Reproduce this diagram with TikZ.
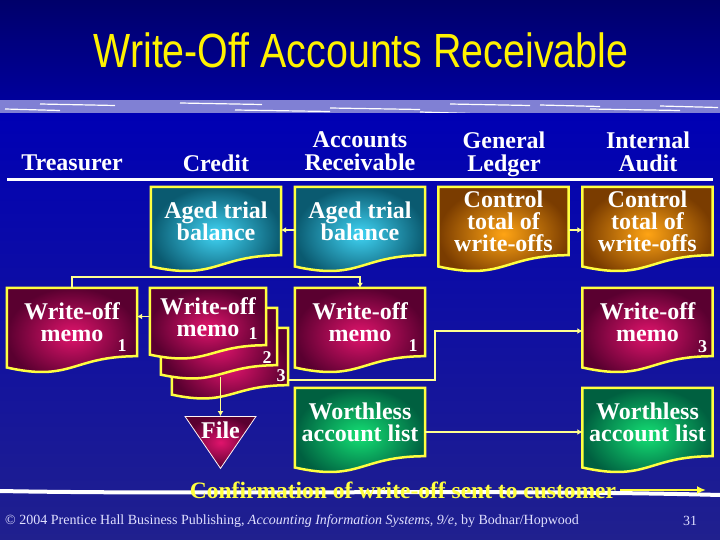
\documentclass[tikz,border=0pt]{standalone}
\usepackage{fontspec}
\setmainfont{Liberation Serif}
\newfontfamily\titlefont[FakeStretch=0.82]{Liberation Sans}
\usetikzlibrary{arrows.meta,calc,backgrounds,shapes.geometric}
\definecolor{bgTop}{HTML}{00006A}
\definecolor{bgTopLow}{HTML}{00009C}
\definecolor{bandCol}{HTML}{8080D4}
\definecolor{bgHigh}{HTML}{0000B4}
\definecolor{bgMid}{HTML}{0A0AF0}
\definecolor{bgLow}{HTML}{20208E}
\definecolor{docYellow}{HTML}{FFFF40}
\definecolor{connYellow}{HTML}{FFFF90}
\definecolor{tealIn}{HTML}{40D4F4}
\definecolor{tealOut}{HTML}{0A5A70}
\definecolor{orangeIn}{HTML}{FFA414}
\definecolor{orangeOut}{HTML}{7A3C00}
\definecolor{maroonIn}{HTML}{E0146C}
\definecolor{maroonOut}{HTML}{5A0030}
\definecolor{greenIn}{HTML}{14E074}
\definecolor{greenOut}{HTML}{006040}
\tikzset{
	header/.style={text=white, font=\bfseries\fontsize{24}{23}\selectfont, align=center, inner sep=0pt, text depth=6pt},
	doc/.style={text=white, font=\bfseries\fontsize{24}{22}\selectfont, align=center,
		minimum width=130, minimum height=68, inner sep=0pt},
	memo copy/.style={doc, minimum width=116, minimum height=57},
	num/.style={text=white, font=\bfseries\fontsize{18}{18}\selectfont, inner sep=0pt},
	teal doc/.style={draw=docYellow, line width=2.5pt, inner color=tealIn, outer color=tealOut},
	orange doc/.style={draw=docYellow, line width=2.5pt, inner color=orangeIn, outer color=orangeOut},
	maroon doc/.style={draw=docYellow, line width=2.5pt, inner color=maroonIn, outer color=maroonOut},
	green doc/.style={draw=docYellow, line width=2.5pt, inner color=greenIn, outer color=greenOut},
	file tri/.style={isosceles triangle, isosceles triangle stretches, shape border rotate=270,
		minimum width=71, minimum height=52, inner sep=0pt, draw=white!85!pink, line width=.8pt,
		inner color=maroonIn, outer color=maroonOut, text=white, font=\bfseries\fontsize{24}{22}\selectfont},
	conn/.style={draw=connYellow, line width=1.6pt, -{Latex[length=5pt,width=6pt]}},
	sent/.style={draw=docYellow, line width=2.6pt, -{Latex[length=9pt,width=8pt]}},
	foot/.style={text=white!88!blue, font=\fontsize{14}{14}\selectfont, inner sep=0pt}
}
\newcommand{\docpath}[1]{(#1.north west) -- (#1.north east) -- (#1.south east)
	.. controls (#1.south) and ($(#1.north)!1.38!(#1.south)$) .. ($(#1.north west)!1.165!(#1.south west)$) -- cycle}

\begin{document}
\begin{tikzpicture}[x=1pt,y=-1pt]
	\useasboundingbox (0,0) rectangle (720,540);
	\node[text=yellow, font=\titlefont\fontsize{48}{48}\selectfont] (title) at (361,50)
		{Write-Off Accounts Receivable};
	% column heads
	\node[header] (hTreas) at (72,166) {Treasurer};
	\node[header] (hCredit) at (216,166) {Credit};
	\node[header] (hAR) at (360,154.5) {Accounts\\Receivable};
	\node[header] (hGL) at (504,154.5) {General\\Ledger};
	\node[header] (hIA) at (648,154.5) {Internal\\Audit};
	% documents
	\node[doc] (credAged) at (216,221) {Aged trial\\balance};
	\node[doc] (arAged) at (360,221) {Aged trial\\balance};
	\node[doc] (glCtrl) at (503.5,221) {Control\\total of\\write-offs};
	\node[doc] (iaCtrl) at (647.5,221) {Control\\total of\\write-offs};
	\node[doc] (treasMemo) at (72,322) {Write-off\\memo\hspace{18pt}};
	\node[memo copy] (credMemoC) at (230,356.5) {};
	\node[memo copy] (credMemoB) at (219,336.5) {};
	\node[memo copy, text height=40pt] (credMemoA) at (208,316.5) {Write-off\\memo\hspace{18pt}};
	\node[doc] (arMemo) at (360,322) {Write-off\\memo\hspace{18pt}};
	\node[doc] (iaMemo) at (647.5,322) {Write-off\\memo\hspace{18pt}};
	\node[doc] (arList) at (360,422) {Worthless\\account list};
	\node[doc] (iaList) at (647.5,422) {Worthless\\account list};
	\node[file tri, anchor=north] (file) at (220.5,416) {\smash{\makebox[0pt]{\raisebox{-3pt}{File}}}};
	% copy numbers
	\node[num] (treasNum) at ($(treasMemo.south east)+(-15,-11)$) {1};
	\node[num] (copyNumA) at ($(credMemoA.south east)+(-13,-12)$) {1};
	\node[num] (copyNumB) at ($(credMemoB.south east)+(-10,-8)$) {2};
	\node[num] (copyNumC) at ($(credMemoC.south east)+(-7,-10)$) {3};
	\node[num] (arNum) at ($(arMemo.south east)+(-12,-11)$) {1};
	\node[num] (iaNum) at ($(iaMemo.south east)+(-10,-10)$) {3};
	\begin{pgfonlayer}{background}
		\shade[top color=bgTop, bottom color=bgTopLow] (0,0) rectangle (720,100);
		\fill[bandCol] (0,100) rectangle (720,114);
		\foreach \xa/\xb/\ya in {5/60/109, 40/115/104, 180/262/103, 235/330/110, 330/420/108,
			420/470/112, 450/530/104, 540/600/105, 590/680/109, 660/718/106}
			\draw[white, line width=1.2pt] (\xa,\ya) -- (\xb,\ya+1.5);
		\shade[top color=bgHigh, middle color=bgMid, bottom color=bgLow] (0,114) rectangle (720,540);
		\draw[white, line width=3pt] (7,180) -- (713,180);
		\draw[white, line width=4pt, line cap=round] (0,491) .. controls (200,495) and (500,489) .. (720,495);
		\shadedraw[teal doc] \docpath{credAged};
		\shadedraw[teal doc] \docpath{arAged};
		\shadedraw[orange doc] \docpath{glCtrl};
		\shadedraw[orange doc] \docpath{iaCtrl};
		\shadedraw[maroon doc] \docpath{treasMemo};
		\shadedraw[maroon doc] \docpath{credMemoC};
		\shadedraw[maroon doc] \docpath{credMemoB};
		\shadedraw[maroon doc] \docpath{credMemoA};
		\shadedraw[maroon doc] \docpath{arMemo};
		\shadedraw[maroon doc] \docpath{iaMemo};
		\shadedraw[green doc] \docpath{arList};
		\shadedraw[green doc] \docpath{iaList};
	\end{pgfonlayer}
	% flows
	\draw[conn] ([yshift=-9pt]arAged.west) -- ([yshift=-9pt]credAged.east);
	\draw[conn] ([yshift=-9pt]glCtrl.east) -- ([yshift=-9pt]iaCtrl.west);
	\draw[conn] (credMemoA.west) -- (credMemoA.west -| treasMemo.east);
	\draw[conn] (treasMemo.north) -- ++(0,-11) -| (arMemo.north);
	\draw[conn] ([yshift=5pt]credMemoC.south east) -- ++(147,0) |- ([yshift=-9pt]iaMemo.west);
	\draw[conn] ($(file.north |- credMemoB.south)+(0,12)$) -- (file.north);
	\draw[conn] ([yshift=-10pt]arList.east) -- ([yshift=-10pt]iaList.west);
	\node[text=docYellow, font=\bfseries\fontsize{23.5}{23.5}\selectfont, inner sep=4pt] (confirm) at (403,490)
		{Confirmation of write-off sent to customer};
	\coordinate (customer) at (706,490);
	\draw[sent] (confirm.east) -- (customer);
	\node[foot, anchor=west] (footNote) at (5,521)
		{\copyright{} 2004 Prentice Hall Business Publishing, \textit{Accounting Information Systems, 9/e}, by Bodnar/Hopwood};
	\node[foot] (pageNo) at (690,521) {31};
\end{tikzpicture}
\end{document}
